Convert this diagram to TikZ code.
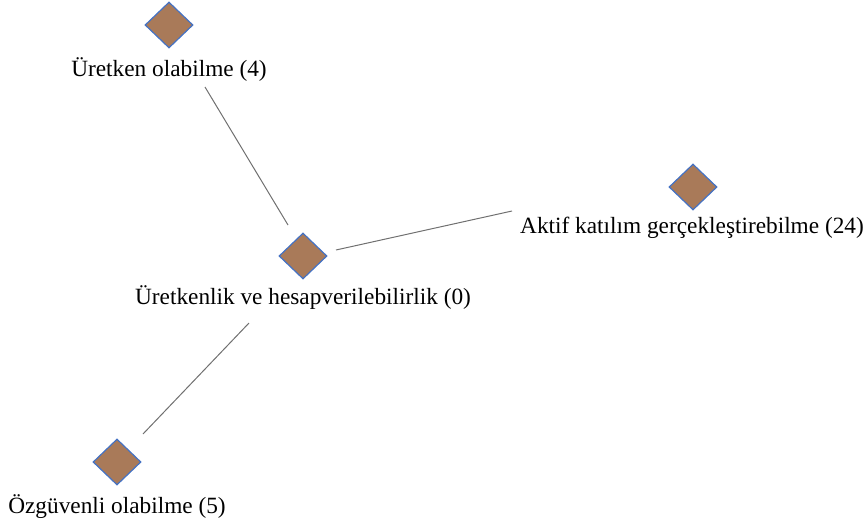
\documentclass[tikz,border=0pt]{standalone}
\usepackage{fontspec}
\setmainfont{Liberation Serif}
\usetikzlibrary{shapes.geometric}
\definecolor{dfill}{HTML}{A97A59}
\definecolor{dline}{HTML}{4472C4}
\definecolor{eline}{HTML}{707070}
\begin{document}
\begin{tikzpicture}[x=1pt,y=-1pt,
  dia/.style={diamond,draw=dline,fill=dfill,line width=1.2pt,minimum width=48pt,minimum height=46pt,inner sep=0pt},
  lbl/.style={font=\fontsize{23.3}{26}\selectfont,inner sep=0pt,anchor=center},
  edge/.style={draw=eline,line width=1pt}]
\useasboundingbox (0,0) rectangle (867,525);
\node[dia] (d1) at (169,25) {};
\node[dia] (d2) at (303,256) {};
\node[dia] (d3) at (693,187) {};
\node[dia] (d4) at (117,462) {};
\node[lbl] (l1) at (169,70) {Üretken olabilme (4)};
\node[lbl] (l2) at (303,298) {Üretkenlik ve hesapverilebilirlik (0)};
\node[lbl] (l3) at (692,228) {Aktif katılım gerçekleştirebilme (24)};
\node[lbl] (l4) at (117,507) {Özgüvenli olabilme (5)};
\coordinate (a1) at (205,87);
\coordinate (b1) at (288,225);
\coordinate (a2) at (336,250);
\coordinate (b2) at (512,211);
\coordinate (a3) at (249,323);
\coordinate (b3) at (143,434);
\draw[edge] (a1) -- (b1);
\draw[edge] (a2) -- (b2);
\draw[edge] (a3) -- (b3);
\end{tikzpicture}
\end{document}
